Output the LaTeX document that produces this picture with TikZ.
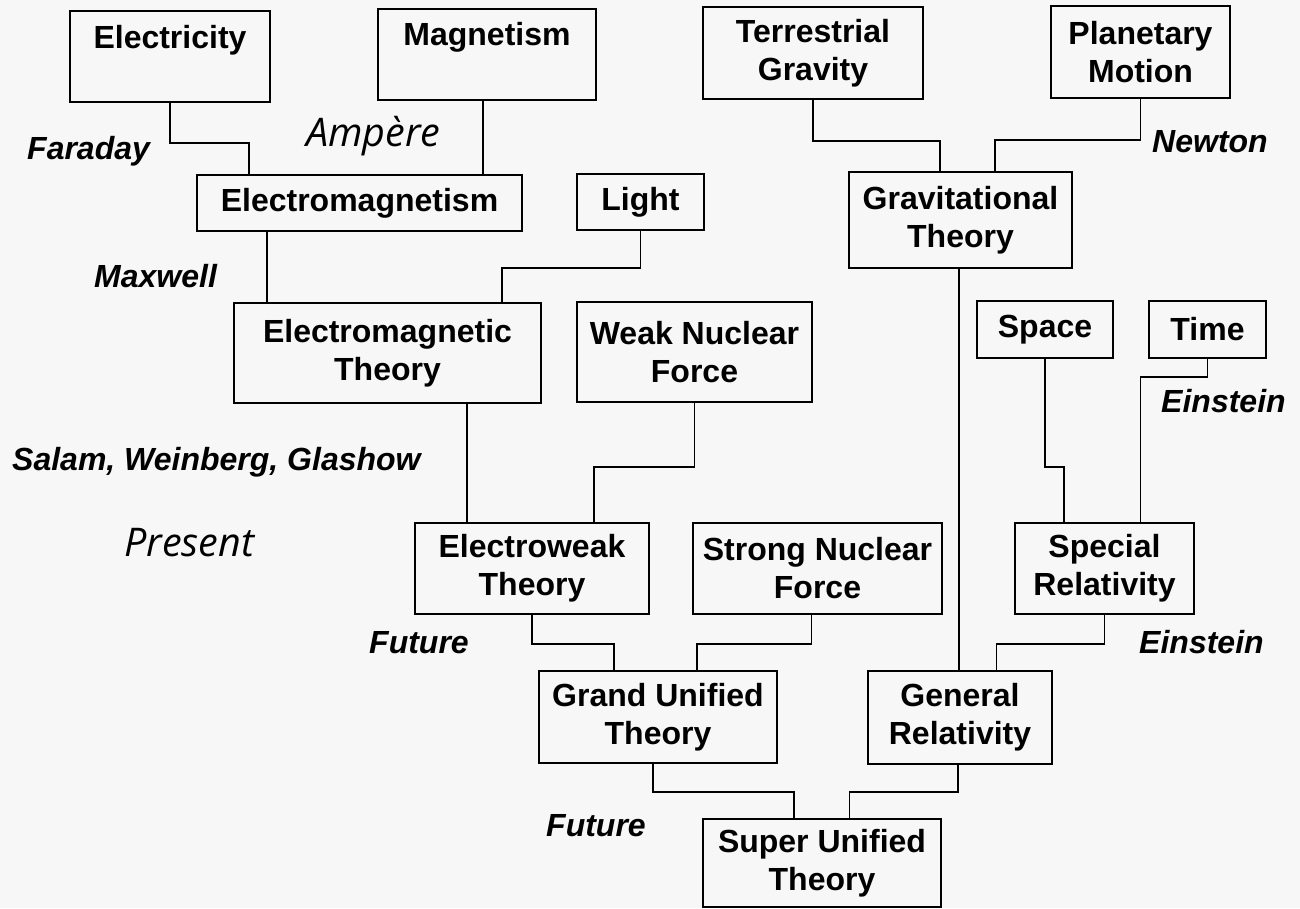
\documentclass[tikz,border=0pt]{standalone}
\usepackage{fontspec}
\setmainfont{Liberation Sans}
\newfontfamily\humanist{Open Sans}
\definecolor{bgc}{HTML}{F7F7F7}
\tikzset{
  box/.style={draw=black, line width=1.6pt, inner sep=0pt, align=center,
    font=\fontsize{32}{38}\selectfont\bfseries},
  who/.style={anchor=base west, inner sep=0pt, font=\fontsize{32}{37}\selectfont\bfseries\itshape},
  era/.style={anchor=base west, inner sep=0pt, font=\fontsize{39.5}{44}\selectfont\humanist\itshape},
  link/.style={line width=1.6pt, line cap=rect}
}
\begin{document}
\begin{tikzpicture}[x=1pt, y=-1pt]
\fill[bgc] (0,0) rectangle (1300,908);
\useasboundingbox (0,0) rectangle (1300,908);

% boxes
\node[box, minimum width=200pt, text height=37pt, text depth=54pt] (elec) at (170,56.5) {Electricity};
\node[box, minimum width=218pt, text height=36pt, text depth=55pt] (mag) at (487,54.5) {Magnetism};
\node[box, minimum width=220pt, minimum height=92pt] (terr) at (813,53) {Terrestrial\\Gravity};
\node[box, minimum width=179pt, minimum height=92pt] (plan) at (1140.5,52) {Planetary\\Motion};
\node[box, minimum width=325pt, minimum height=56pt] (em) at (359.5,203) {Electromagnetism};
\node[box, minimum width=127pt, minimum height=56pt] (light) at (640.5,202) {Light};
\node[box, minimum width=223pt, minimum height=96pt] (grav) at (960.5,220) {Gravitational\\Theory};
\node[box, minimum width=307pt, minimum height=100pt] (emt) at (387.5,353) {Electromagnetic\\Theory};
\node[box, minimum width=235pt, minimum height=100pt] (weak) at (694.5,352) {Weak Nuclear\\Force};
\node[box, minimum width=136pt, minimum height=57pt] (space) at (1045,329.5) {Space};
\node[box, minimum width=117pt, minimum height=57pt] (time) at (1207.5,329.5) {Time};
\node[box, minimum width=234pt, minimum height=91pt] (ew) at (532,568.5) {Electroweak\\Theory};
\node[box, minimum width=249pt, minimum height=91pt] (strong) at (817.5,568.5) {Strong Nuclear\\Force};
\node[box, minimum width=179pt, minimum height=91pt] (sr) at (1104.5,568.5) {Special\\Relativity};
\node[box, minimum width=238pt, minimum height=92pt] (gut) at (658,717) {Grand Unified\\Theory};
\node[box, minimum width=184pt, minimum height=93pt] (gr) at (960,717.5) {General\\Relativity};
\node[box, minimum width=238pt, minimum height=88pt] (sut) at (822,863) {Super Unified\\Theory};

% labels
\node[who] (faraday) at (27,159) {Faraday};
\node[era] (ampere) at (306,146) {Ampère};
\node[who] (maxwell) at (94,287) {Maxwell};
\node[who] (newton) at (1152,152) {Newton};
\node[who] (salam) at (12,470) {Salam, Weinberg, Glashow};
\node[era] (present) at (124,556) {Present};
\node[who] (einst1) at (1161,412) {Einstein};
\node[who] (future1) at (369,653) {Future};
\node[who] (einst2) at (1139,653) {Einstein};
\node[who] (future2) at (546,836) {Future};

% connectors
\draw[link] (elec.south) -- ++(0,40) -| ([xshift=-110.5pt]em.north);
\draw[link] ([xshift=-4pt]mag.south) -- ([xshift=-4pt]mag.south |- em.north);
\draw[link] (terr.south) -- ++(0,41) -| ([xshift=-20.5pt]grav.north);
\draw[link] (plan.south) -- ++(0,41) -| ([xshift=34.5pt]grav.north);
\draw[link] ([xshift=-92.5pt]em.south) -- ([xshift=-92.5pt]em.south |- emt.north);
\draw[link] (light.south) -- ++(0,37) -| ([xshift=114.5pt]emt.north);
\draw[link] ([xshift=-1.5pt]grav.south) -- ([xshift=-1.5pt]grav.south |- gr.north);
\draw[link] ([xshift=79.5pt]emt.south) -- ([xshift=79.5pt]emt.south |- ew.north);
\draw[link] (weak.south) -- ++(0,64) -| ([xshift=62pt]ew.north);
\draw[link] (space.south) -- ++(0,108) -| ([xshift=-40.5pt]sr.north);
\draw[link] (time.south) -- ++(0,18) -| ([xshift=36pt]sr.north);
\draw[link] (ew.south) -- ++(0,29) -| ([xshift=-44pt]gut.north);
\draw[link] ([xshift=-6pt]strong.south) -- ++(0,29) -| ([xshift=39pt]gut.north);
\draw[link] (sr.south) -- ++(0,29) -| ([xshift=36.4pt]gr.north);
\draw[link] ([xshift=-5pt]gut.south) -- ++(0,28) -| ([xshift=-28pt]sut.north);
\draw[link] ([xshift=-2pt]gr.south) -- ++(0,27) -| ([xshift=27.5pt]sut.north);
\end{tikzpicture}
\end{document}
